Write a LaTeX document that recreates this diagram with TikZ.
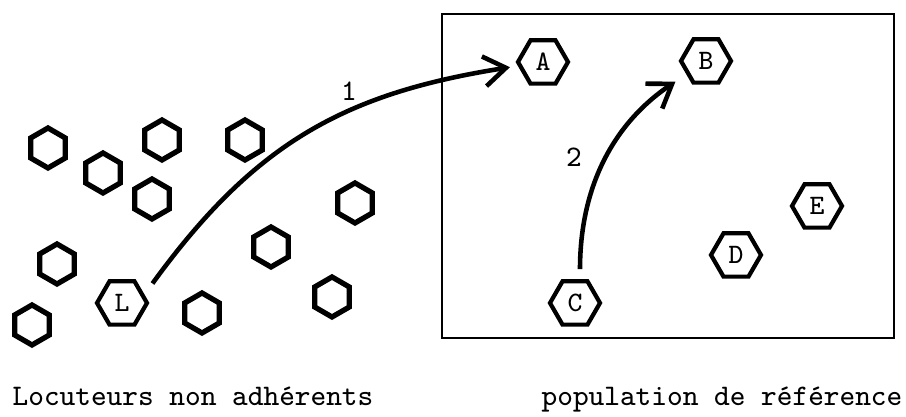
\documentclass[tikz,border=0pt]{standalone}
\usepackage{tikz}
\usetikzlibrary{arrows.meta,shapes.geometric}

\begin{document}
\begin{tikzpicture}[
    hexa/.style={regular polygon, regular polygon sides=6, shape border rotate=30,
      draw, line width=1.5pt, minimum size=0.4cm, inner sep=0pt},
    hexlab/.style={regular polygon, regular polygon sides=6, draw, line width=1.2pt,
      minimum size=0.5cm, inner sep=0pt, font=\ttfamily\fontsize{8}{9}\selectfont},
    arr/.style={-{Straight Barb[length=2.2mm,width=3mm]}, line width=1.3pt},
    lbl/.style={font=\ttfamily\fontsize{8.5}{10}\selectfont}
  ]
  \useasboundingbox (0,0) rectangle (9.06,4.17);
  % Box of the reference population
  \draw[line width=0.75pt] (4.42,0.79) rectangle (8.94,4.03);
  % Non adherent speakers
  \foreach \x/\y [count=\i] in {0.48/2.69, 1.62/2.77, 2.45/2.77, 1.03/2.44,
      1.52/2.18, 3.55/2.14, 2.71/1.70, 0.57/1.53, 2.02/1.04, 3.32/1.20, 0.32/0.92}
    \node[hexa] (h\i) at (\x,\y) {};
  \node[hexlab] (L) at (1.22,1.14) {L};
  % Members of the reference population
  \node[hexlab] (A) at (5.43,3.55) {A};
  \node[hexlab] (B) at (7.06,3.56) {B};
  \node[hexlab] (C) at (5.75,1.14) {C};
  \node[hexlab] (D) at (7.36,1.62) {D};
  \node[hexlab] (E) at (8.17,2.11) {E};
  % Arrows
  \draw[arr, shorten >=0.8mm] ([xshift=1.2mm,yshift=0.4mm]L.40)
    to[out=54,in=189,looseness=1.05] (A);
  \draw[arr, shorten <=1mm, shorten >=1.3mm] ([xshift=0.5mm]C.north)
    to[out=90,in=214] (B);
  \node[lbl] (n1) at (3.49,3.26) {1};
  \node[lbl] (n2) at (5.74,2.60) {2};
  % Captions
  \node[lbl, anchor=base] (capL) at (1.93,0.11) {Locuteurs non adhérents};
  \node[lbl, anchor=base] (capR) at (7.22,0.11) {population de référence};
\end{tikzpicture}
\end{document}
